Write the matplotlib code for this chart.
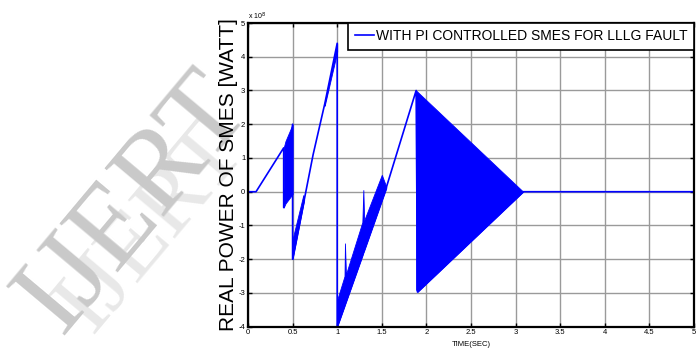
import matplotlib
matplotlib.use("Agg")
import matplotlib.pyplot as plt
from matplotlib import font_manager
import numpy as np

# SMES real power, values in units of 1e8 W
trace_t = [0.0, 0.09, 0.40, 0.40, 0.50, 0.50, 0.73, 0.86, 1.00, 1.00, 1.55, 1.885, 1.90, 3.085, 5.0]
trace_v = [0.0, 0.0, 1.30, -0.47, 2.0, -2.0, 1.10, 2.60, 4.40, -4.0, 0.12, 3.0, -2.97, 0.0, 0.0]

# dense oscillation regions drawn as envelopes
band1_t = [0.40, 0.42, 0.50]
band1_hi = [1.30, 1.50, 2.00]
band1_lo = [-0.47, -0.35, -0.07]

band2_t = [0.50, 0.62, 0.63]
band2_hi = [-1.40, -0.10, -0.25]
band2_lo = [-2.00, -0.38, -0.25]

band3_t = [0.86, 1.00]
band3_hi = [2.65, 4.40]
band3_lo = [2.55, 4.15]

band4_t = [1.00, 1.082, 1.087, 1.098, 1.282, 1.293, 1.302, 1.50, 1.55]
band4_hi = [-3.20, -2.50, -1.53, -2.45, -0.90, 0.05, -0.85, 0.50, 0.15]
band4_lo = [-4.00, -3.39, -3.35, -3.27, -1.90, -1.81, -1.75, -0.27, 0.10]

band5_t = [1.885, 1.90, 3.085]
band5_hi = [3.00, 2.96, 0.00]
band5_lo = [-2.90, -2.97, 0.00]

x_ticks = [0, 0.5, 1, 1.5, 2, 2.5, 3, 3.5, 4, 4.5, 5]
x_labels = ['0', '0.5', '1', '1.5', '2', '2.5', '3', '3.5', '4', '4.5', '5']
y_ticks = [-4, -3, -2, -1, 0, 1, 2, 3, 4, 5]
y_labels = ['-4', '-3', '-2', '-1', '0', '1', '2', '3', '4', '5']

names = {f.name for f in font_manager.fontManager.ttflist}
sans = 'Liberation Sans' if 'Liberation Sans' in names else 'DejaVu Sans'
serif = 'Liberation Serif' if 'Liberation Serif' in names else 'DejaVu Serif'

fig = plt.figure(figsize=(6.97, 3.57), dpi=100)

# watermark behind the axes
fig.text(152 / 697, 1 - 228 / 357, 'IJERT', family=serif, fontsize=68, color='#e8e8e8',
         rotation=50, ha='center', va='center', zorder=-2)
fig.text(135 / 697, 1 - 203 / 357, 'IJERT', family=serif, fontsize=84, color='#c9c9c9',
         rotation=50, ha='center', va='center', zorder=-1)

ax = fig.add_axes([248 / 697, 1 - 326.7 / 357, 446 / 697, 303.7 / 357])

blue = '#0000ff'
ax.plot(trace_t, trace_v, color=blue, lw=1.2,
        label='WITH PI CONTROLLED SMES FOR LLLG FAULT')
for t, hi, lo in [(band1_t, band1_hi, band1_lo), (band2_t, band2_hi, band2_lo),
                  (band3_t, band3_hi, band3_lo), (band4_t, band4_hi, band4_lo),
                  (band5_t, band5_hi, band5_lo)]:
    ax.fill_between(t, lo, hi, color=blue, lw=0.6)

ax.set_xlim(0, 5)
ax.set_ylim(-4, 5)
ax.set_xticks(x_ticks)
ax.set_xticklabels(x_labels, family=sans, fontsize=5.5)
ax.set_yticks(y_ticks)
ax.set_yticklabels(y_labels, family=sans, fontsize=5.5)
ax.tick_params(direction='in', top=True, right=True, length=3, width=1, pad=2)
ax.grid(color='#9a9a9a', lw=1.0)
ax.set_axisbelow(True)
for s in ax.spines.values():
    s.set_linewidth(1.6)

ax.set_xlabel('TIME(SEC)', family=sans, fontsize=5.5, labelpad=3)
ax.set_ylabel('REAL POWER OF SMES [WATT]', family=sans, fontsize=15, labelpad=0)

fig.text(248 / 697, 1 - 20 / 357, r'x 10$^{8}$', family=sans, fontsize=5)

leg = ax.legend(loc='upper right', fancybox=False, framealpha=1, edgecolor='black',
                borderaxespad=0, handlelength=1.4, handletextpad=0.15, borderpad=0.45,
                prop={'family': sans, 'size': 10})
leg.get_frame().set_linewidth(1.2)

fig.savefig('out.png', dpi=100)
